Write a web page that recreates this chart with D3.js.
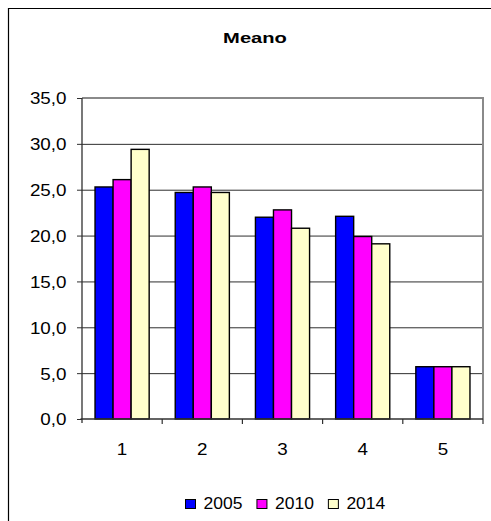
<!DOCTYPE html>
<html>
<head>
<meta charset="utf-8">
<script src="https://cdn.jsdelivr.net/npm/d3@7"></script>
<style>
  html, body { margin: 0; padding: 0; background: #fff; overflow: hidden; }
  svg { display: block; }
  text { font-family: "Liberation Sans", Arial, sans-serif; fill: #000; }
</style>
</head>
<body>
<svg id="chart" width="491" height="521"></svg>
<script>
// ---- data ----
const title = "Meano";
const categories = ["1", "2", "3", "4", "5"];
const seriesNames = ["2005", "2010", "2014"];
const values2005 = [25.3, 24.7, 22.0, 22.1, 5.7];
const values2010 = [26.1, 25.3, 22.8, 19.9, 5.7];
const values2014 = [29.4, 24.7, 20.8, 19.1, 5.7];
const yTicks = [0, 5, 10, 15, 20, 25, 30, 35];
const seriesColors = ["#0000ff", "#ff00ff", "#ffffcc"];

const seriesValues = [values2005, values2010, values2014];

// ---- layout ----
const svg = d3.select("#chart");
const plot = { left: 82, top: 98, right: 483, bottom: 419 };
const fsTick = 16.5, sxTick = 1.14;
const fsTitle = 15.5, sxTitle = 1.3;
const fsLegend = 17, sxLegend = 1.03;

// outer frame: only top and left edges are visible in the picture
svg.append("path")
  .attr("d", "M491,8.5H8.5V521")
  .attr("fill", "none").attr("stroke", "#000").attr("stroke-width", 1.2);

const y = d3.scaleLinear().domain([0, 35]).range([plot.bottom, plot.top]);
const x = d3.scaleBand().domain(categories)
  .range([plot.left, plot.right]).paddingInner(0.325).paddingOuter(0.1625);
const xs = d3.scaleBand().domain(seriesNames).range([0, x.bandwidth()]).padding(0);

const locale = d3.formatLocale({ decimal: ",", thousands: ".", grouping: [3], currency: ["", ""] });
const fmt = locale.format(".1f");

// gridlines
const grid = svg.append("g")
  .attr("transform", `translate(${plot.left},0)`)
  .call(d3.axisLeft(y).tickValues(yTicks.filter(v => v > 0 && v < 35))
    .tickSize(-(plot.right - plot.left)).tickFormat(""));
grid.select(".domain").remove();
grid.selectAll(".tick line").attr("stroke", "#2e2e2e").attr("stroke-width", 1);

// plot border top/right
svg.append("path")
  .attr("d", `M${plot.left},${plot.top}H${plot.right}V${plot.bottom}`)
  .attr("fill", "none").attr("stroke", "#8a8a8a").attr("stroke-width", 2);

// bars
const groups = svg.append("g").selectAll("g")
  .data(categories).join("g")
  .attr("transform", d => `translate(${x(d)},0)`);
groups.selectAll("rect")
  .data((d, i) => seriesNames.map((s, j) => ({ s, j, v: seriesValues[j][i] })))
  .join("rect")
  .attr("x", d => xs(d.s))
  .attr("y", d => y(d.v))
  .attr("width", xs.bandwidth())
  .attr("height", d => y(0) - y(d.v))
  .attr("fill", d => seriesColors[d.j])
  .attr("stroke", "#000").attr("stroke-width", 1.4);

// y axis
const yAxis = svg.append("g")
  .attr("transform", `translate(${plot.left},0)`)
  .call(d3.axisLeft(y).tickValues(yTicks).tickSize(5).tickFormat(fmt));
yAxis.select(".domain").attr("stroke", "#303030").attr("stroke-width", 1.3)
  .attr("d", `M0,${plot.top}V${plot.bottom + 4}`);
yAxis.selectAll(".tick line").attr("stroke", "#303030");
yAxis.selectAll(".tick text")
  .attr("font-size", fsTick).attr("font-family", "Liberation Sans, Arial, sans-serif")
  .attr("fill", "#000")
  .attr("x", -15.5 / sxTick).attr("dy", "0.36em")
  .attr("transform", `scale(${sxTick},1)`);

// x axis (labels at band centers)
const xAxis = svg.append("g")
  .attr("transform", `translate(0,${plot.bottom})`)
  .call(d3.axisBottom(x).tickSize(0));
xAxis.select(".domain").attr("stroke", "#303030").attr("stroke-width", 1.3)
  .attr("d", `M${plot.left - 1.5},0H${plot.right}`);
xAxis.selectAll(".tick text")
  .attr("font-size", fsTick).attr("font-family", "Liberation Sans, Arial, sans-serif")
  .attr("fill", "#000")
  .attr("y", 24.5).attr("dy", "0.71em")
  .attr("transform", `scale(${sxTick},1)`)
  .attr("x", 0);
// category boundary ticks
const step = x.step();
const bounds = d3.range(1, categories.length + 1).map(i => plot.left + i * step);
xAxis.selectAll(".bound").data(bounds).join("line")
  .attr("class", "bound")
  .attr("x1", d => d).attr("x2", d => d)
  .attr("y1", 0).attr("y2", 5)
  .attr("stroke", "#303030").attr("stroke-width", 1.2);

// title
svg.append("text")
  .attr("transform", `translate(255,43.3) scale(${sxTitle},1)`)
  .attr("text-anchor", "middle")
  .attr("font-size", fsTitle).attr("font-weight", "bold")
  .text(title);

// legend
const legend = svg.append("g").attr("transform", "translate(185,0)");
let cx = 0;
seriesNames.forEach((name, i) => {
  const g = legend.append("g").attr("transform", `translate(${cx},0)`);
  g.append("rect")
    .attr("x", 0.5).attr("y", 499.5).attr("width", 10).attr("height", 9)
    .attr("fill", seriesColors[i]).attr("stroke", "#000").attr("stroke-width", 1);
  const t = g.append("text")
    .attr("transform", `translate(18.5,509) scale(${sxLegend},1)`)
    .attr("font-size", fsLegend)
    .text(name);
  const w = t.node().getComputedTextLength() * sxLegend;
  cx += 18.5 + w + 14;
});
</script>
</body>
</html>
